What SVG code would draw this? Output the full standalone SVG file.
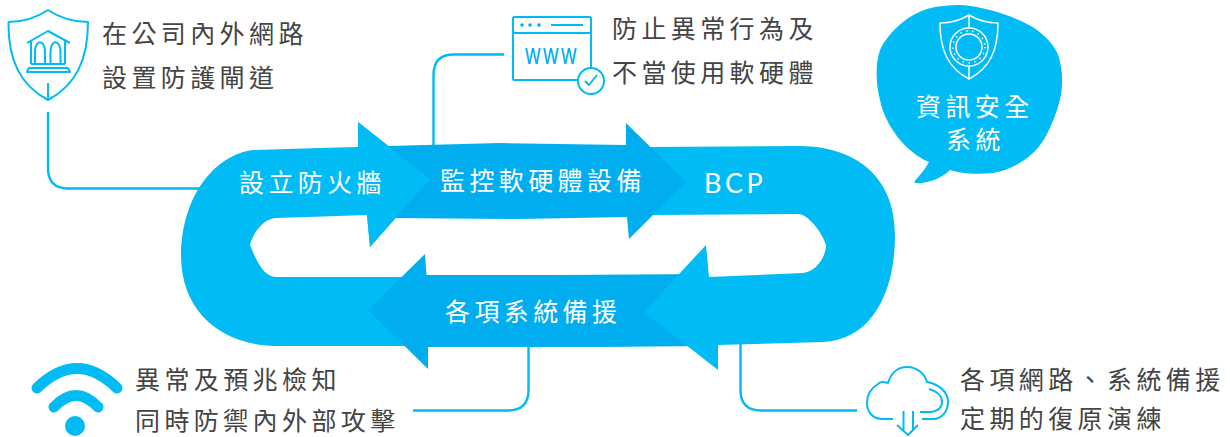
<svg xmlns="http://www.w3.org/2000/svg" width="1230" height="437" viewBox="0 0 1230 437">
<style>
text{font-family:"Noto Sans CJK TC","Noto Sans CJK SC",sans-serif;font-weight:400}
.t{font-size:25px;letter-spacing:4.400px;fill:#444}
.w{font-size:25px;letter-spacing:4.400px;fill:#fff}
.l{fill:#00bbf4}
.d{fill:#00aeef}
.c{fill:none;stroke:#00bbf4;stroke-width:2.400}
.i{fill:none;stroke:#00bbf4;stroke-width:2;stroke-linejoin:round}
.iw{fill:none;stroke:#fff;stroke-width:1.500;stroke-linejoin:round}
</style>
<g id="connectors">
<path class="c" d="M48 112V168Q48 188.500 68 188.500H205"/>
<path class="c" d="M433.500 150V75Q433.500 54.500 454 54.500H504"/>
<path class="c" d="M528.500 345V390Q528.500 410.500 508 410.500H413"/>
<path class="c" d="M740.500 343V390Q740.500 410.500 761 410.500H857"/>
</g>
<g id="loop">
<path class="l" d="M253 150C215 155 182 195 181 255C181 315 225 345 275 346L410 346L410 277L277 277C265 277 258 265 250 245C254 230 265 218 277 218L367 215L370 247L430 179L358 122V147L320 148Z"/>
<path class="d" d="M368 310L425 254L426.500 275L560 275L706 274V346L600 347H428V369Z"/>
<path class="l" d="M650 147L800 146C860 147 895 180 895 235C895 295 870 340 823 342L718 345V370L644 312L706 245L709 277L803 273C815 272 826 258 826 245C822 232 808 214 798 214L653 215Z"/>
<path class="d" d="M388 146L500 143L626 145V123L686 182L629 239L627 217L520 219L390 218Z"/>
<path class="l" d="M358 122L430 179L370 247L367 215L340 200L340 150L358 147Z"/>
</g>
<g id="n-gateway">
<path class="i" d="M48 10Q30 22 8.500 22C8 60 20 85 48 100C76 85 88 60 88 22Q66 22 48 10ZM48 83V100"/>
<path class="i" d="M27 43L48 31L70 43M31 41V64M65 41V64M31 64H65M35 64V52C35 39 45 39 45 52V64M50.500 64V52C50.500 39 60.500 39 60.500 52V64"/>
<path class="i" d="M29 68H68L70 72H27Z"/>
<text class="t" x="102" y="43">在公司內外網路</text>
<text class="t" x="102" y="87">設置防護閘道</text>
</g>
<g id="n-monitor">
<rect class="i" x="513" y="17" width="78" height="63" rx="1.500"/>
<path class="i" d="M513 33H591M551 25H583"/>
<circle class="d" cx="522" cy="25" r="1.800"/><circle class="d" cx="530" cy="25" r="1.800"/><circle class="d" cx="539" cy="25" r="1.800"/>
<text x="525" y="64" textLength="54" lengthAdjust="spacingAndGlyphs" style="font-family:'Noto Sans',sans-serif;font-size:21px;letter-spacing:3px;fill:#00aeef;font-weight:500">WWW</text>
<circle cx="591" cy="81" r="13" fill="#fff" stroke="#00bbf4" stroke-width="2"/>
<path class="i" d="M585 81L589 85L597 75"/>
<text class="t" x="612" y="38">防止異常行為及</text>
<text class="t" x="612" y="82">不當使用軟硬體</text>
</g>
<g id="n-infosec">
<path class="l" d="M960 5C985 6 1020 18 1037 30C1050 40 1058 50 1060 62C1064 80 1062 95 1057 110C1050 130 1043 144 1033 153C1020 165 1005 171 993 173C975 175 960 173 950 170C940 180 925 184 915 183C912 182 922 175 929 162C905 152 885 125 880 100C875 80 876 62 880 50C887 35 905 16 927 9C938 6 948 5 960 5Z"/>
<path class="iw" d="M969 15Q956 23 940 23C940 50 948 68 969 79C990 68 998 50 998 23Q982 23 969 15ZM969 15V28M969 66V79"/>
<circle class="iw" cx="969" cy="47" r="19"/>
<circle class="iw" cx="969" cy="47" r="13"/>
<circle cx="969" cy="47" r="16" fill="none" stroke="#fff" stroke-width="1.500" stroke-dasharray="1.500 4.500"/>
<text class="w" x="916" y="116">資訊安全</text>
<text class="w" x="946" y="149">系統</text>
</g>
<g id="n-firewall"><text class="w" x="239" y="192">設立防火牆</text></g>
<g id="n-hardware"><text class="w" x="440" y="190">監控軟硬體設備</text></g>
<g id="n-bcp"><text x="704" y="193" style="font-family:'Lato',sans-serif;font-size:27px;letter-spacing:3.500px;fill:#fff;font-weight:400">BCP</text></g>
<g id="n-backup"><text class="w" x="445" y="321">各項系統備援</text></g>
<g id="n-detect">
<path d="M37 388Q77 349 117 388M54 407Q76 384 98 407" fill="none" stroke="#00bbf4" stroke-width="11" stroke-linecap="round"/>
<circle class="l" cx="75" cy="426" r="10"/>
<text class="t" x="135" y="389">異常及預兆檢知</text>
<text class="t" x="135" y="430">同時防禦內外部攻擊</text>
</g>
<g id="n-restore">
<path class="i" d="M893 419H882C872 419 867 411 867 403C867 393 873 387 878 384C880 381 885 382 888 383C891 373 898 367 907 367C917 367 925 374 927 382C938 384 948 391 948 402C948 411 942 419 933 419H922M929 389C937 391 942 396 942 402C942 409 935 412 930 412H920M903.500 411V430M913 411V430M897 425L908 435L918 425"/>
<text class="t" x="960" y="389">各項網路、系統備援</text>
<text class="t" x="960" y="428">定期的復原演練</text>
</g>
</svg>
